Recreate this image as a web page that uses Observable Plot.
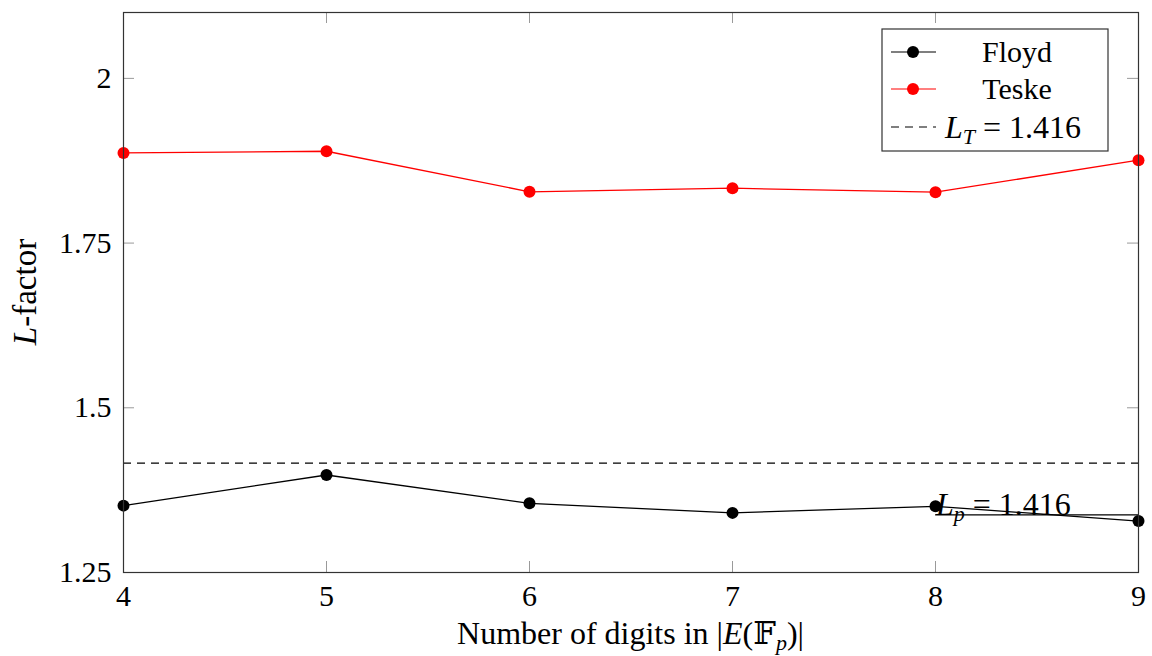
<!DOCTYPE html>
<html>
<head>
<meta charset="utf-8">
<script src="https://cdn.jsdelivr.net/npm/d3@7"></script>
<script src="https://cdn.jsdelivr.net/npm/@observablehq/plot@0.6"></script>
<style>
  html, body { margin: 0; padding: 0; background: #fff; }
  #chart svg { display: block; }
  #chart svg text, #chart svg tspan { font-family: 'Liberation Serif', 'DejaVu Serif', serif; }
</style>
</head>
<body>
<div id="chart"></div>
<script>
// ---- data ----
const digits = [4, 5, 6, 7, 8, 9];
const floyd = [1.3515, 1.398, 1.355, 1.3405, 1.3505, 1.328];
const teske = [1.8868, 1.8894, 1.8278, 1.8333, 1.8273, 1.8758];
const LT = 1.416;
const lpLineX = [8, 9];
const lpLineY = 1.3375;
const lpLabel = "1.416";
const yTicks = [1.25, 1.5, 1.75, 2];
const yTickLabels = ["1.25", "1.5", "1.75", "2"];
const xTicks = [4, 5, 6, 7, 8, 9];

const W = 1152, H = 656;
const mL = 123, mR = 14, mT = 12, mB = 84;
const plotW = W - mL - mR, plotH = H - mT - mB;
const FONT = "'Liberation Serif', 'DejaVu Serif', serif";
const tickLen = 11;

const floydData = digits.map((d, i) => ({x: d, y: floyd[i]}));
const teskeData = digits.map((d, i) => ({x: d, y: teske[i]}));

const chart = Plot.plot({
  width: W, height: H,
  marginLeft: mL, marginRight: mR, marginTop: mT, marginBottom: mB,
  style: {fontFamily: FONT, fontSize: "30px", background: "#fff", color: "#000"},
  x: {domain: [4, 9], label: null},
  y: {domain: [1.25, 2.1], label: null},
  marks: [
    // inner ticks
    Plot.tickY(yTicks, {y: d => d, stroke: "#9a9a9a", strokeWidth: 1, insetRight: plotW - tickLen}),
    Plot.tickY(yTicks, {y: d => d, stroke: "#9a9a9a", strokeWidth: 1, insetLeft: plotW - tickLen}),
    Plot.tickX(xTicks, {x: d => d, stroke: "#9a9a9a", strokeWidth: 1, insetTop: plotH - tickLen}),
    Plot.tickX(xTicks, {x: d => d, stroke: "#9a9a9a", strokeWidth: 1, insetBottom: plotH - tickLen}),
    // axes labels
    Plot.axisY(yTicks, {anchor: "left", tickSize: 0, tickPadding: 12, tickFormat: d => yTickLabels[yTicks.indexOf(d)], fontSize: 30, label: null}),
    Plot.axisX(xTicks, {anchor: "bottom", tickSize: 0, tickPadding: 12, tickFormat: d => String(d), fontSize: 30, label: null}),
    // reference lines
    Plot.ruleY([LT], {stroke: "#000", strokeWidth: 1.2, strokeDasharray: "8,6"}),
    Plot.lineY(lpLineX.map(x => ({x, y: lpLineY})), {x: "x", y: "y", stroke: "#000", strokeWidth: 1.2}),
    // series
    Plot.line(floydData, {x: "x", y: "y", stroke: "#000", strokeWidth: 1.3}),
    Plot.dot(floydData, {x: "x", y: "y", fill: "#000", r: 6}),
    Plot.line(teskeData, {x: "x", y: "y", stroke: "#ff0000", strokeWidth: 1.3}),
    Plot.dot(teskeData, {x: "x", y: "y", fill: "#ff0000", r: 6}),
    Plot.frame({stroke: "#333", strokeWidth: 1.2})
  ]
});

document.getElementById("chart").appendChild(chart);

const svg = d3.select(chart);
const xs = chart.scale("x"), ys = chart.scale("y");

function txt(sel) {
  return sel.style("font-family", FONT).attr("fill", "#000");
}

// L_p label near the line
const lp = txt(svg.append("text"))
  .attr("x", xs.apply(lpLineX[0]) + 1)
  .attr("y", ys.apply(lpLineY) + 1)
  .attr("text-anchor", "start")
  .style("font-size", "32px");
lp.append("tspan").attr("font-style", "italic").text("L");
lp.append("tspan").attr("font-style", "italic").style("font-size", "22px").attr("dy", 6).text("p");
lp.append("tspan").attr("dy", -6).text(" = " + lpLabel);

// y-axis label
const yl = txt(svg.append("text"))
  .attr("transform", `translate(36,${mT + plotH / 2}) rotate(-90)`)
  .attr("text-anchor", "middle")
  .style("font-size", "33px");
yl.append("tspan").attr("font-style", "italic").text("L");
yl.append("tspan").text("-factor");

// x-axis label
const xl = txt(svg.append("text"))
  .attr("x", mL + plotW / 2).attr("y", 644)
  .attr("text-anchor", "middle")
  .style("font-size", "32px");
xl.append("tspan").text("Number of digits in |");
xl.append("tspan").attr("font-style", "italic").text("E");
xl.append("tspan").text("(𝔽");
xl.append("tspan").attr("font-style", "italic").style("font-size", "22px").attr("dy", 6).text("p");
xl.append("tspan").attr("dy", -6).text(")|");

// legend
const lg = svg.append("g");
const lx = 882, ly = 29, lw = 226, lh = 122;
lg.append("rect").attr("x", lx).attr("y", ly).attr("width", lw).attr("height", lh)
  .attr("fill", "#fff").attr("stroke", "#333").attr("stroke-width", 1.2);
const rows = [
  {name: "Floyd", color: "#000", y: 52},
  {name: "Teske", color: "#ff0000", y: 89}
];
rows.forEach(r => {
  lg.append("line").attr("x1", 891).attr("x2", 936).attr("y1", r.y).attr("y2", r.y)
    .attr("stroke", r.color).attr("stroke-width", 1.2);
  lg.append("circle").attr("cx", 913).attr("cy", r.y).attr("r", 6).attr("fill", r.color);
  txt(lg.append("text")).attr("x", 1017).attr("y", r.y + 10).attr("text-anchor", "middle")
    .style("font-size", "30px").text(r.name);
});
lg.append("line").attr("x1", 891).attr("x2", 936).attr("y1", 127).attr("y2", 127)
  .attr("stroke", "#000").attr("stroke-width", 1.2).attr("stroke-dasharray", "8,6");
const lt = txt(lg.append("text")).attr("x", 945).attr("y", 138)
  .attr("text-anchor", "start").style("font-size", "32px");
lt.append("tspan").attr("font-style", "italic").text("L");
lt.append("tspan").attr("font-style", "italic").style("font-size", "22px").attr("dy", 6).text("T");
lt.append("tspan").attr("dy", -6).text(" = " + LT.toFixed(3));
</script>
</body>
</html>
